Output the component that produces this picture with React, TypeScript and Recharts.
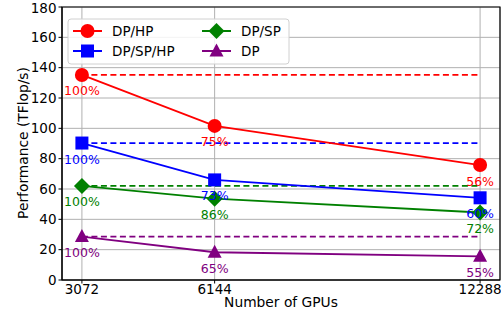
import { LineChart, Line, XAxis, YAxis, CartesianGrid, ReferenceLine, ReferenceArea, LabelList } from 'recharts';

const gpus = [3072, 6144, 12288];
const yTicks = [0, 20, 40, 60, 80, 100, 120, 140, 160, 180];

const dpHp = [135.2, 101.6, 75.8];
const dpSpHp = [90.3, 66.0, 54.2];
const dpSp = [62.0, 53.6, 44.5];
const dp = [28.6, 18.3, 15.6];

const dpHpPct = ['100%', '75%', '56%'];
const dpSpHpPct = ['100%', '73%', '60%'];
const dpSpPct = ['100%', '86%', '72%'];
const dpPct = ['100%', '65%', '55%'];

const FONT = '"DejaVu Sans", Verdana, sans-serif';
const X_DOMAIN = [2611.2, 12748.8];

type Shape = 'circle' | 'square' | 'diamond' | 'triangle';

const series: { key: string; name: string; color: string; shape: Shape; values: number[]; pct: string[] }[] = [
  { key: 'dpHp', name: 'DP/HP', color: '#ff0000', shape: 'circle', values: dpHp, pct: dpHpPct },
  { key: 'dpSpHp', name: 'DP/SP/HP', color: '#0000ff', shape: 'square', values: dpSpHp, pct: dpSpHpPct },
  { key: 'dpSp', name: 'DP/SP', color: '#008000', shape: 'diamond', values: dpSp, pct: dpSpPct },
  { key: 'dp', name: 'DP', color: '#800080', shape: 'triangle', values: dp, pct: dpPct },
];

const data = gpus.map((g, i) => {
  const row: Record<string, number | string> = { gpus: g };
  series.forEach((s) => {
    row[s.key] = s.values[i];
    row[s.key + 'Pct'] = s.pct[i];
  });
  return row;
});

const Marker = ({ cx, cy, shape, color }: { cx: number; cy: number; shape: Shape; color: string }) => {
  if (shape === 'circle') return <circle cx={cx} cy={cy} r={7} fill={color} />;
  if (shape === 'square') return <rect x={cx - 6.5} y={cy - 6.5} width={13} height={13} fill={color} />;
  if (shape === 'diamond')
    return <polygon points={`${cx},${cy - 8} ${cx + 8},${cy} ${cx},${cy + 8} ${cx - 8},${cy}`} fill={color} />;
  return <polygon points={`${cx},${cy - 7.5} ${cx + 7},${cy + 5.5} ${cx - 7},${cy + 5.5}`} fill={color} />;
};

const makeDot = (shape: Shape, color: string) => (props: any) => (
  <Marker key={`${shape}-${props.index}`} cx={props.cx} cy={props.cy} shape={shape} color={color} />
);

const makePct = (color: string) => (props: any) => (
  <text
    x={props.x}
    y={props.y + 16}
    textAnchor="middle"
    dominantBaseline="central"
    fill={color}
    fontSize={12.5}
    fontFamily={FONT}
  >
    {props.value}
  </text>
);

const LegendBox = () => {
  const cols = [73, 202];
  const rows = [31, 51];
  return (
    <svg width={501} height={314} style={{ position: 'absolute', left: 0, top: 0, pointerEvents: 'none' }}>
      <rect x={68} y={19} width={221} height={45} rx={3} fill="#fff" fillOpacity={0.85} stroke="#d0d0d0" />
      {series.map((s, i) => {
        const x = cols[Math.floor(i / 2)];
        const y = rows[i % 2];
        return (
          <g key={s.key}>
            <line x1={x} x2={x + 29} y1={y} y2={y} stroke={s.color} strokeWidth={2} />
            <Marker cx={x + 14.5} cy={y} shape={s.shape} color={s.color} />
            <text x={x + 39} y={y} dominantBaseline="central" fontSize={13.5} fontFamily={FONT} fill="#000">
              {s.name}
            </text>
          </g>
        );
      })}
    </svg>
  );
};

export default function App() {
  return (
    <div style={{ position: 'absolute', left: 0, top: 0, width: 501, height: 314, background: '#fff' }}>
      <LineChart width={501} height={314} data={data} margin={{ top: 7, right: 1, left: 0, bottom: 0 }}>
        <CartesianGrid stroke="#b0b0b0" strokeWidth={1} />
        <XAxis
          dataKey="gpus"
          type="number"
          domain={X_DOMAIN}
          ticks={gpus}
          height={34}
          tickSize={3.5}
          tickMargin={1}
          axisLine={{ stroke: '#000' }}
          tickLine={{ stroke: '#000' }}
          tick={{ fill: '#000', fontSize: 13.5, fontFamily: FONT }}
          label={(p: any) => (
            <text x={281} y={307} textAnchor="middle" fontSize={13.8} fontFamily={FONT} fill="#000">
              Number of GPUs
            </text>
          )}
        />
        <YAxis
          type="number"
          domain={[0, 180]}
          ticks={yTicks}
          width={62}
          tickSize={3.5}
          tickMargin={2}
          axisLine={{ stroke: '#000' }}
          tickLine={{ stroke: '#000' }}
          tick={{ fill: '#000', fontSize: 13.5, fontFamily: FONT }}
          label={(p: any) => (
            <text
              x={23}
              y={143}
              transform="rotate(-90 23 143)"
              textAnchor="middle"
              dominantBaseline="central"
              fontSize={13.8}
              fontFamily={FONT}
              fill="#000"
            >
              Performance (TFlop/s)
            </text>
          )}
        />
        <ReferenceArea
          x1={X_DOMAIN[0]}
          x2={X_DOMAIN[1]}
          y1={0}
          y2={180}
          fill="none"
          fillOpacity={0}
          stroke="#000"
          strokeWidth={1.2}
        />
        {series.map((s) => (
          <ReferenceLine
            key={s.key + '-base'}
            segment={[
              { x: gpus[0], y: s.values[0] },
              { x: gpus[gpus.length - 1], y: s.values[0] },
            ]}
            stroke={s.color}
            strokeWidth={1.8}
            strokeDasharray="6 3.5"
          />
        ))}
        {series.map((s) => (
          <Line
            key={s.key}
            dataKey={s.key}
            name={s.name}
            type="linear"
            stroke={s.color}
            strokeWidth={1.8}
            dot={makeDot(s.shape, s.color)}
            activeDot={false}
            isAnimationActive={false}
          >
            <LabelList dataKey={s.key + 'Pct'} content={makePct(s.color)} />
          </Line>
        ))}
      </LineChart>
      <LegendBox />
    </div>
  );
}
